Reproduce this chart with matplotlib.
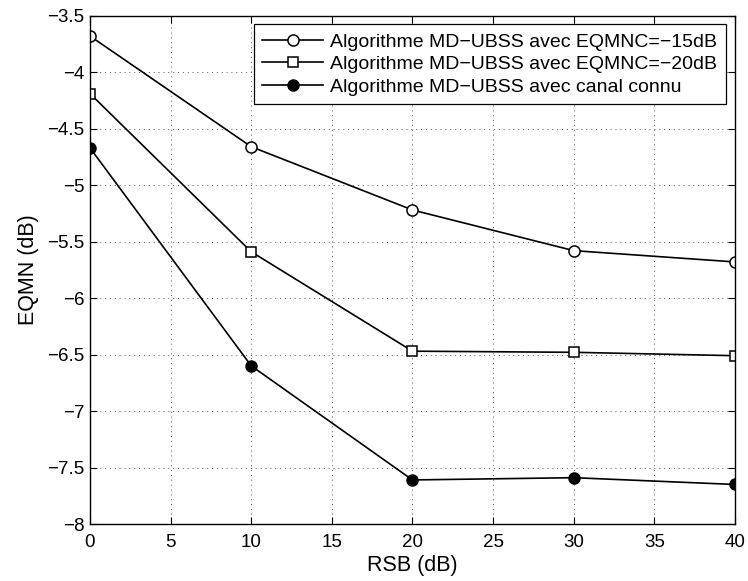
import matplotlib
matplotlib.use("Agg")
import matplotlib.pyplot as plt

plt.rcParams['font.family'] = ['Liberation Sans', 'DejaVu Sans']

rsb = [0, 10, 20, 30, 40]
eqmn_15 = [-3.68, -4.66, -5.22, -5.58, -5.68]
eqmn_20 = [-4.19, -5.59, -6.47, -6.48, -6.51]
eqmn_known = [-4.67, -6.60, -7.61, -7.59, -7.65]

labels = ["Algorithme MD\u2212UBSS avec EQMNC=\u221215dB",
          "Algorithme MD\u2212UBSS avec EQMNC=\u221220dB",
          "Algorithme MD\u2212UBSS avec canal connu"]
xticks = [0, 5, 10, 15, 20, 25, 30, 35, 40]
yticks = [-8, -7.5, -7, -6.5, -6, -5.5, -5, -4.5, -4, -3.5]

fig = plt.figure(figsize=(7.48, 5.81), dpi=100)
ax = fig.add_axes([0.1203, 0.0981, 0.8623, 0.8749])

ax.plot(rsb, eqmn_15, '-o', color='black', mfc='white', mec='black', ms=8, lw=1.2, mew=1.1, label=labels[0])
ax.plot(rsb, eqmn_20, '-s', color='black', mfc='white', mec='black', ms=7.5, lw=1.2, mew=1.1, label=labels[1])
ax.plot(rsb, eqmn_known, '-o', color='black', mfc='black', mec='black', ms=8, lw=1.2, label=labels[2])

ax.set_xlim(0, 40)
ax.set_ylim(-8, -3.5)
ax.set_xticks(xticks)
ax.set_yticks(yticks)
ax.set_yticklabels([("%g" % t).replace('-', '\u2212') for t in yticks])
ax.set_xticklabels([str(t) for t in xticks])
ax.grid(True, linestyle=(0, (1, 4)), color='#555555', linewidth=0.7)
ax.tick_params(direction='in', top=True, right=True, labelsize=13.5, length=5, width=0.8, pad=4)
ax.tick_params(axis='x', pad=7)
for s in ax.spines.values():
    s.set_linewidth(1.0)
ax.set_xlabel("RSB (dB)", fontsize=15.5, labelpad=3)
ax.set_ylabel("EQMN (dB)", fontsize=15.5, labelpad=6)

leg = ax.legend(loc='upper right', fontsize=14, frameon=True, fancybox=False,
                edgecolor='black', framealpha=1, borderpad=0.45, labelspacing=0.25,
                handlelength=3.1, handletextpad=0.4, borderaxespad=0.45)
leg.get_frame().set_linewidth(0.9)

fig.savefig("out.png", dpi=100)
